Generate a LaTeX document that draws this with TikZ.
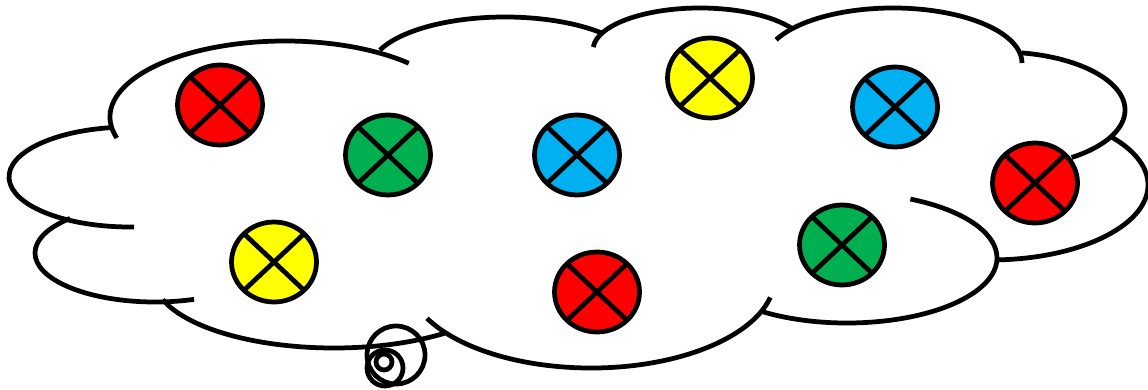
\documentclass[tikz,border=0pt]{standalone}
\usetikzlibrary{shapes.geometric}
\definecolor{lampred}{HTML}{FF0000}
\definecolor{lampgreen}{HTML}{00B050}
\definecolor{lampblue}{HTML}{00B0F0}
\definecolor{lampyellow}{HTML}{FFFF00}
\newcommand\cloudarc[6]{\draw[cloudline] (#1,#2) ++(#5:#3 and #4) arc[start angle=#5,end angle=#6,x radius=#3,y radius=#4];}
\begin{document}
\begin{tikzpicture}[x=0.02cm,y=0.02cm,
  cloudline/.style={line width=0.095cm},
  lamp/.style={ellipse, draw, line width=0.095cm, minimum width=1.7cm, minimum height=1.6cm,
    inner sep=0pt, outer sep=0pt, fill=#1,
    path picture={\draw[line width=0.095cm]
      (path picture bounding box.south west) -- (path picture bounding box.north east)
      (path picture bounding box.north west) -- (path picture bounding box.south east);}}]
\useasboundingbox (0,0) rectangle (1148,389);
% cloud lobes
\cloudarc{285}{272}{175}{76}{196}{45}
\cloudarc{130}{212}{121}{50}{98}{272}
\cloudarc{155}{136}{120}{49}{135}{289}
\cloudarc{334}{111}{180}{70}{198}{308}
\cloudarc{591}{112}{184}{91}{207}{347}
\cloudarc{847}{131}{150}{65}{236}{425}
\cloudarc{990}{204}{158}{75}{272}{401}
\cloudarc{1000}{279}{125}{58}{80}{-55}
\cloudarc{893}{326}{129}{55}{155}{0}
\cloudarc{700}{339}{107}{42}{176}{31}
\cloudarc{505}{319}{135}{53}{158}{43}
% callout bubbles
\draw[cloudline] (396,34) circle[radius=29];
\draw[cloudline] (385,21) circle[radius=18];
\draw[cloudline] (384,27) circle[radius=8];
% lamps
\node[lamp=lampred] (r1) at (220,284) {};
\node[lamp=lampgreen] (g1) at (388,234) {};
\node[lamp=lampyellow] (y1) at (274,127) {};
\node[lamp=lampblue] (b1) at (577,234) {};
\node[lamp=lampyellow] (y2) at (710,311) {};
\node[lamp=lampred] (r2) at (597,97) {};
\node[lamp=lampblue] (b2) at (895,282) {};
\node[lamp=lampred] (r3) at (1035,206) {};
\node[lamp=lampgreen] (g2) at (842,144) {};
\end{tikzpicture}
\end{document}
